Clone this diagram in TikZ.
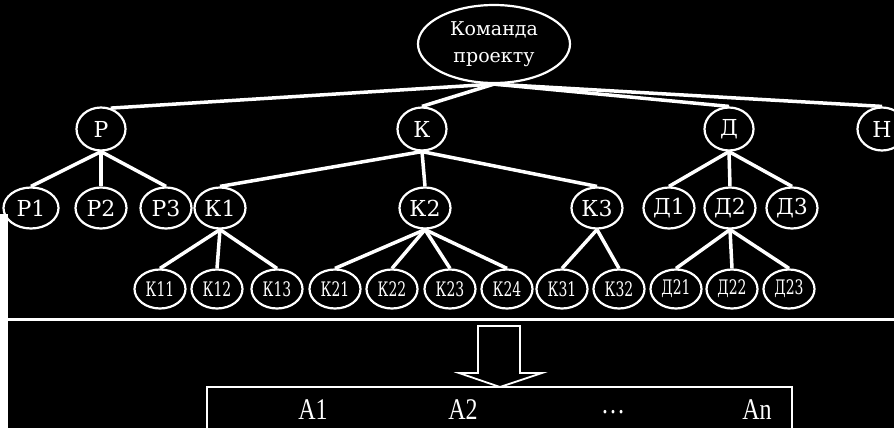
\documentclass[tikz,border=0pt]{standalone}
\usepackage{fontspec}
\usetikzlibrary{shapes.geometric}
\newfontfamily\topfont{DejaVu Serif}
\newfontfamily\nodefont{DejaVu Serif}
\newfontfamily\narrowfont[FakeStretch=0.7]{DejaVu Serif}
\newfontfamily\afont[FakeStretch=0.8]{Liberation Serif}
\tikzset{
  base/.style={ellipse, draw=white, fill=black, line width=2.2pt, inner sep=0pt, text=white},
  topbox/.style={base, minimum width=152pt, minimum height=78pt, align=center,
    font=\topfont\fontsize{19}{27}\selectfont},
  lvlone/.style={base, minimum width=49pt, minimum height=43pt, font=\nodefont\fontsize{22}{22}\selectfont},
  lvltwo/.style={base, minimum width=51pt, minimum height=41pt, font=\nodefont\fontsize{22}{22}\selectfont},
  lvlthree/.style={base, minimum width=51pt, minimum height=39pt, font=\narrowfont\fontsize{20}{20}\selectfont},
  link/.style={draw=white, line width=3.5pt},
  atext/.style={text=white, font=\afont\fontsize{30}{30}\selectfont, inner sep=0pt}
}
\begin{document}
\begin{tikzpicture}[x=1pt,y=-1pt]
\fill[black] (0,0) rectangle (894,428);
\useasboundingbox (0,0) rectangle (894,428);

% nodes
\node[topbox] (top) at (494,44) {Команда\\проекту};

\node[lvlone] (P) at (101,129) {Р};
\node[lvlone] (K) at (422,129) {К};
\node[lvlone] (D) at (729,129) {Д};
\node[lvlone] (N) at (882,129) {Н};

\node[lvltwo, minimum width=55pt] (P1) at (31,208) {Р1};
\node[lvltwo] (P2) at (101,208) {Р2};
\node[lvltwo] (P3) at (166,208) {Р3};
\node[lvltwo] (K1) at (220,208) {К1};
\node[lvltwo] (K2) at (425,208) {К2};
\node[lvltwo] (K3) at (597,208) {К3};
\node[lvltwo] (D1) at (669,208) {Д1};
\node[lvltwo] (D2) at (730,208) {Д2};
\node[lvltwo] (D3) at (792,208) {Д3};

\node[lvlthree] (K11) at (160,289) {К11};
\node[lvlthree] (K12) at (217,289) {К12};
\node[lvlthree] (K13) at (277,289) {К13};
\node[lvlthree] (K21) at (335,289) {К21};
\node[lvlthree] (K22) at (392,289) {К22};
\node[lvlthree] (K23) at (450,289) {К23};
\node[lvlthree] (K24) at (507,289) {К24};
\node[lvlthree] (K31) at (562,289) {К31};
\node[lvlthree] (K32) at (619,289) {К32};
\node[lvlthree] (D21) at (676,289) {Д21};
\node[lvlthree] (D22) at (732,289) {Д22};
\node[lvlthree] (D23) at (789,289) {Д23};

% white left edge of the lower part
\fill[white] (0,214) rectangle (8,428);

% connectors
\path[link] (top.south) -- (P.65);
\path[link] (top.south) -- (K.north);
\path[link] (top.south) -- (D.north);
\path[link] (top.south) -- (N.north);

\foreach \c in {P1,P2,P3} \path[link] (P.south) -- (\c.north);
\foreach \c in {K1,K2,K3} \path[link] (K.south) -- (\c.north);
\foreach \c in {D1,D2,D3} \path[link] (D.south) -- (\c.north);
\foreach \c in {K11,K12,K13} \path[link] (K1.south) -- (\c.north);
\foreach \c in {K21,K22,K23,K24} \path[link] (K2.south) -- (\c.north);
\foreach \c in {K31,K32} \path[link] (K3.south) -- (\c.north);
\foreach \c in {D21,D22,D23} \path[link] (D2.south) -- (\c.north);

% separator
\draw[white, line width=3pt] (8,319) -- (894,319);

% result box
\draw[white, line width=2.4pt] (207,387) rectangle (792,445);
\node[atext] (a1) at (313,410) {А1};
\node[atext] (a2) at (463,410) {А2};
\node[atext] (a3) at (613,412) {\dots};
\node[atext] (an) at (757,410) {Аn};

% block arrow
\draw[white, line width=1.8pt, fill=black, line join=miter]
  (478,326) -- (520,326) -- (520,373) -- (542,373) -- (500,387) -- (459,373) -- (478,373) -- cycle;
\end{tikzpicture}
\end{document}
